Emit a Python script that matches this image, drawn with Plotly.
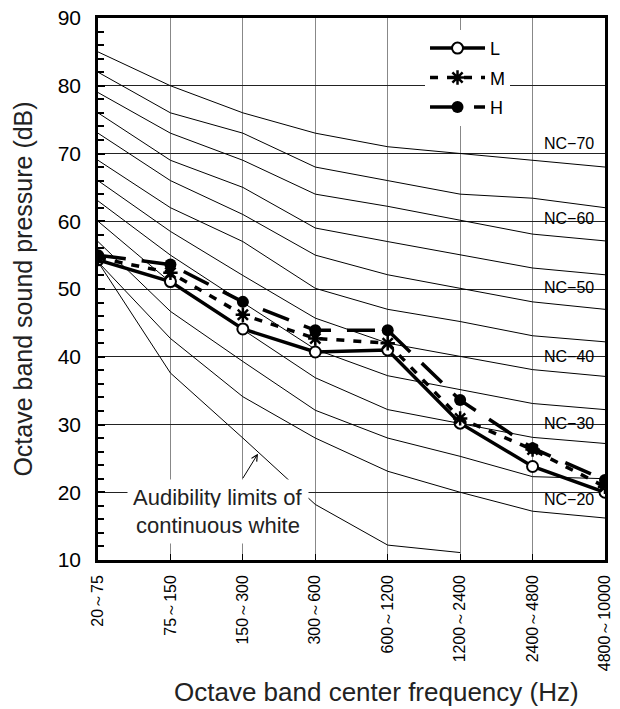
import plotly.graph_objects as go

# ---------------- data ----------------
categories = ["20～75", "75～150", "150～300", "300～600", "600～1200",
              "1200～2400", "2400～4800", "4800～10000"]
x_pos = list(range(len(categories)))

series_L = [54.3, 51.1, 44.1, 40.7, 41.0, 30.2, 23.8, 20.0]
series_M = [54.6, 52.4, 46.2, 42.7, 42.0, 30.9, 26.3, 20.8]
series_H = [55.0, 53.6, 48.1, 43.9, 43.9, 33.6, 26.5, 21.8]

nc_names = ["NC−70", "NC−65", "NC−60", "NC−55", "NC−50", "NC−45",
            "NC−40", "NC−35", "NC−30", "NC−25", "NC−20"]
nc_70 = [85, 80, 76, 73, 71, 70, 69, 68]
nc_65 = [82, 76, 73, 68, 66, 64, 63.4, 62]
nc_60 = [79, 73, 69, 64, 62.2, 60.1, 58.1, 57.1]
nc_55 = [76, 69, 65, 59, 57, 55, 53.1, 52.1]
nc_50 = [73, 66, 61, 55, 52.1, 50.1, 48.1, 47]
nc_45 = [69, 62, 57, 50.1, 47, 45.2, 43.1, 42.2]
nc_40 = [66, 58.5, 52, 45.7, 42, 40.1, 38.1, 37.1]
nc_35 = [63, 55, 48, 41.1, 37.2, 35.1, 33.1, 32.2]
nc_30 = [60, 51, 44, 36.9, 32.2, 30.2, 28.1, 27.2]
nc_25 = [57, 46.7, 39.3, 32.1, 28, 25.3, 22.3, 22]
nc_20 = [54, 42.7, 34.1, 28, 23.1, 20, 17.2, 16.2]
nc_curves = [nc_70, nc_65, nc_60, nc_55, nc_50, nc_45,
             nc_40, nc_35, nc_30, nc_25, nc_20]
labelled_nc = ["NC−70", "NC−60", "NC−50", "NC−40", "NC−30", "NC−20"]
label_y = [71.5, 60.4, 50.2, 40.0, 30.1, 18.9]

audibility = [54, 37.6, 28, 18.2, 12.2, 11.1]

y_ticks = [10, 20, 30, 40, 50, 60, 70, 80, 90]

FONT = "Arial, Liberation Sans, sans-serif"

fig = go.Figure()

for name, vals in zip(nc_names, nc_curves):
    fig.add_trace(go.Scatter(x=x_pos, y=vals, mode="lines",
                             line=dict(color="black", width=1),
                             showlegend=False, hoverinfo="skip", name=name))

fig.add_trace(go.Scatter(x=x_pos[:len(audibility)], y=audibility, mode="lines",
                         line=dict(color="black", width=1),
                         showlegend=False, hoverinfo="skip"))

fig.add_trace(go.Scatter(
    x=x_pos, y=series_L, mode="lines+markers", name="L", legendgroup="L",
    line=dict(color="black", width=3.5),
    marker=dict(symbol="circle", size=11, color="white",
                line=dict(color="black", width=2))))
fig.add_trace(go.Scatter(
    x=x_pos, y=series_M, mode="lines+markers", name="M", legendgroup="M",
    line=dict(color="black", width=3.5, dash="8px,9px"),
    marker=dict(symbol="asterisk-open", size=12, color="black",
                line=dict(color="black", width=2.5))))
fig.add_trace(go.Scatter(
    x=x_pos, y=series_H, mode="lines+markers", name="H", legendgroup="H",
    line=dict(color="black", width=3.5, dash="28px,16px"),
    marker=dict(symbol="circle", size=12, color="black")))

annotations = []
for txt, yy in zip(labelled_nc, label_y):
    annotations.append(dict(x=6.88, y=yy, xref="x", yref="y", text=txt,
                            showarrow=False, xanchor="right", yanchor="middle",
                            font=dict(family=FONT, size=16, color="black")))

annotations.append(dict(x=1.657, y=19.2, xref="x", yref="y",
                        text="Audibility limits of", showarrow=False,
                        xanchor="center", yanchor="middle", bgcolor="white",
                        borderpad=5,
                        font=dict(family=FONT, size=22, color="#222")))
annotations.append(dict(x=1.657, y=15.06, xref="x", yref="y",
                        text="continuous white", showarrow=False,
                        xanchor="center", yanchor="middle", bgcolor="white",
                        borderpad=5,
                        font=dict(family=FONT, size=22, color="#222")))
annotations.append(dict(x=2.209, y=25.7, xref="x", yref="y", text="",
                        showarrow=True, ax=-16, ay=26, arrowhead=5,
                        arrowsize=1.2, arrowwidth=1, arrowcolor="black"))
annotations.append(dict(x=0.55, y=-0.2435, xref="paper", yref="paper",
                        text="Octave band center frequency (Hz)",
                        showarrow=False, xanchor="center", yanchor="middle",
                        font=dict(family=FONT, size=26, color="#222")))

fig.update_layout(
    width=620, height=709,
    margin=dict(l=98, r=15, t=18, b=149),
    plot_bgcolor="white", paper_bgcolor="white",
    font=dict(family=FONT, color="black"),
    annotations=annotations,
    legend=dict(x=0.645, y=0.978, xanchor="left", yanchor="top",
                bgcolor="white", font=dict(family=FONT, size=18),
                itemwidth=55, traceorder="grouped", tracegroupgap=3),
)

fig.update_xaxes(
    range=[0, 7], tickmode="array", tickvals=x_pos, ticktext=categories,
    tickangle=-90, tickfont=dict(family=FONT, size=16, color="black"),
    showgrid=True, gridcolor="#888", gridwidth=1.2,
    showline=True, mirror=True, linecolor="black", linewidth=2.5,
    ticks="inside", ticklen=6, tickcolor="black", ticklabelstandoff=6,
    ticklabeloverflow="allow", zeroline=False, automargin=False,
)
fig.update_yaxes(
    range=[10, 90], tickmode="array", tickvals=y_ticks,
    tickfont=dict(family=FONT, size=21, color="black"),
    showgrid=True, gridcolor="#222", gridwidth=1,
    showline=True, mirror=True, linecolor="black", linewidth=2.5,
    ticks="inside", ticklen=7, tickcolor="black", tickwidth=2,
    minor=dict(dtick=2, tick0=10, ticks="inside", ticklen=6, tickwidth=2,
               tickcolor="black", showgrid=False),
    ticklabelstandoff=10, ticklabeloverflow="allow",
    zeroline=False, automargin=False,
    title=dict(text="Octave band sound pressure (dB)", standoff=18,
               font=dict(family=FONT, size=25, color="#222")),
)

# remove the browser's default 8 px page margin so the figure fills the window
fig.write_html("out.html",
               config={"displayModeBar": False},
               post_script="document.body.style.margin='0';")
